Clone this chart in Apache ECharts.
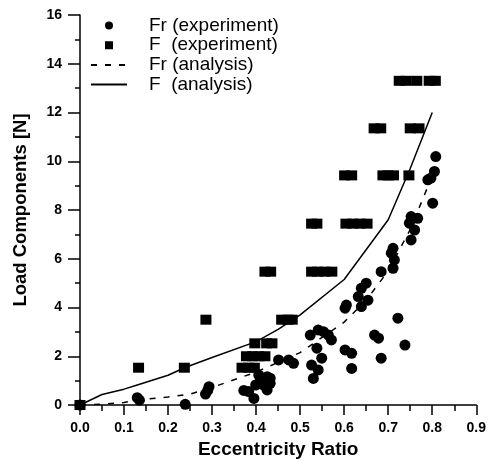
<!DOCTYPE html>
<html>
<head>
<meta charset="utf-8">
<script src="https://cdn.jsdelivr.net/npm/echarts@6/dist/echarts.min.js"></script>
<style>html,body{margin:0;padding:0;background:#fff;}#c{width:489px;height:464px;}</style>
</head>
<body>
<div id="c"></div>
<script>
// Fr (experiment) points [eccentricity, load]
const frExp = [
  [0,0],[0.13,0.3],[0.135,0.2],[0.239,0.03],
  [0.285,0.45],[0.29,0.6],[0.293,0.75],
  [0.372,0.6],[0.383,0.55],[0.395,0.27],
  [0.399,0.82],[0.406,1.23],[0.41,1.03],[0.417,0.82],[0.425,1.16],[0.432,0.89],[0.425,0.62],[0.432,1.1],
  [0.451,1.85],[0.474,1.85],[0.485,1.71],
  [0.523,2.87],[0.541,3.08],[0.553,3.01],[0.564,2.87],[0.571,2.67],
  [0.538,2.33],[0.549,1.92],[0.526,1.64],[0.541,1.44],[0.53,1.09],
  [0.602,2.26],[0.617,2.12],[0.617,1.5],
  [0.605,4.1],[0.602,3.97],[0.639,4.79],[0.632,4.45],[0.639,4.04],[0.654,4.3],[0.65,5.0],
  [0.669,2.87],[0.678,2.74],[0.684,1.92],[0.684,5.47],
  [0.711,6.43],[0.707,6.23],[0.714,5.95],[0.711,5.61],
  [0.722,3.56],[0.738,2.46],
  [0.752,7.73],[0.767,7.66],[0.748,7.46],[0.76,7.18],[0.752,6.77],
  [0.801,8.28],[0.79,9.24],[0.797,9.31],[0.805,9.58],[0.808,10.19]
];
// F (experiment) points
const fExp = [
  [0,0],[0.133,1.53],[0.237,1.53],[0.286,3.5],
  [0.368,1.53],[0.383,1.53],[0.396,1.53],
  [0.378,2.0],[0.392,2.0],[0.406,2.0],[0.42,2.0],
  [0.397,2.53],[0.424,2.53],[0.436,2.53],
  [0.458,3.5],[0.472,3.5],[0.482,3.5],
  [0.42,5.47],[0.433,5.47],[0.526,5.47],[0.54,5.47],[0.556,5.47],[0.572,5.47],
  [0.526,7.44],[0.538,7.44],[0.604,7.44],[0.62,7.44],[0.636,7.44],[0.652,7.44],
  [0.601,9.42],[0.617,9.42],[0.688,9.42],[0.70,9.42],[0.712,9.42],[0.747,9.42],
  [0.668,11.35],[0.683,11.35],[0.75,11.35],[0.77,11.35],
  [0.725,13.3],[0.741,13.3],[0.765,13.3],[0.793,13.3],[0.807,13.3]
];
// Fr (analysis) curve
const frAna = [
  [0,0],[0.05,0.03],[0.1,0.1],[0.13,0.2],[0.2,0.33],[0.25,0.45],[0.3,0.72],
  [0.4,1.35],[0.5,2.15],[0.6,3.4],[0.65,4.3],[0.7,5.5],[0.75,7.2],[0.8,9.4]
];
// F (analysis) curve
const fAna = [
  [0,0],[0.05,0.43],[0.1,0.65],[0.13,0.82],[0.2,1.22],[0.24,1.55],[0.3,1.95],
  [0.4,2.6],[0.45,3.1],[0.5,3.7],[0.6,5.15],[0.7,7.6],[0.75,9.7],[0.8,12.0]
];
const xTicks = {min:0, max:0.9, interval:0.1};
const yTicks = {min:0, max:16, interval:2};

const FONT = 'Liberation Sans, Arial, sans-serif';
// square legend icon centred in a 36x8 box (corner sub-paths only set the box)
const squareIcon = 'path://M0,0L0,0.01Z M36,8L36,7.99Z M14,0H22V8H14Z';
const chart = echarts.init(document.getElementById('c'), null, {renderer:'canvas'});
chart.setOption({
  animation:false,
  backgroundColor:'#fff',
  grid:{left:80, right:10, top:15, bottom:59},
  legend:{
    orient:'vertical', left:85, top:11, itemWidth:36, itemHeight:8, itemGap:0.7,
    textStyle:{fontFamily:FONT, fontSize:19, color:'#000', padding:[0,0,0,17]},
    data:[
      {name:'Fr (experiment)', icon:'circle'},
      {name:'F  (experiment)', icon:squareIcon},
      {name:'Fr (analysis)', itemStyle:{opacity:0}},
      {name:'F  (analysis)', itemStyle:{opacity:0}}
    ]
  },
  xAxis:{
    type:'value', min:xTicks.min, max:xTicks.max, interval:xTicks.interval,
    name:'Eccentricity Ratio', nameLocation:'middle', nameGap:33,
    nameTextStyle:{fontFamily:FONT, fontSize:19, fontWeight:'bold', color:'#000'},
    axisLine:{lineStyle:{color:'#000', width:1.5}},
    axisTick:{inside:false, length:10, lineStyle:{color:'#000', width:1.5}},
    minorTick:{show:true, splitNumber:2, length:6, lineStyle:{color:'#000', width:1.5}},
    splitLine:{show:false},
    axisLabel:{margin:16, fontFamily:FONT, fontSize:14, fontWeight:'bold', color:'#000',
      formatter:v=>v.toFixed(1)}
  },
  yAxis:{
    type:'value', min:yTicks.min, max:yTicks.max, interval:yTicks.interval,
    name:'Load Components [N]', nameLocation:'middle', nameGap:50,
    nameTextStyle:{fontFamily:FONT, fontSize:18.5, fontWeight:'bold', color:'#000'},
    axisLine:{show:true, lineStyle:{color:'#000', width:1.5}},
    axisTick:{show:true, inside:false, length:12, lineStyle:{color:'#000', width:1.5}},
    minorTick:{show:true, splitNumber:2, length:5, lineStyle:{color:'#000', width:1.5}},
    splitLine:{show:false},
    axisLabel:{margin:18, fontFamily:FONT, fontSize:14, fontWeight:'bold', color:'#000'}
  },
  series:[
    {name:'Fr (experiment)', type:'scatter', data:frExp, symbol:'circle', symbolSize:11,
      itemStyle:{color:'#000', opacity:1}, z:3},
    {name:'F  (experiment)', type:'scatter', data:fExp, symbol:'rect', symbolSize:[11,10],
      itemStyle:{color:'#000', opacity:1}, z:3},
    {name:'Fr (analysis)', type:'line', data:frAna, symbol:'none', showSymbol:false, smooth:false,
      lineStyle:{color:'#000', width:1.5, type:[6,8]}, itemStyle:{color:'#000'}, z:2},
    {name:'F  (analysis)', type:'line', data:fAna, symbol:'none', showSymbol:false, smooth:false,
      lineStyle:{color:'#000', width:1.5}, itemStyle:{color:'#000'}, z:2}
  ]
});
</script>
</body>
</html>
